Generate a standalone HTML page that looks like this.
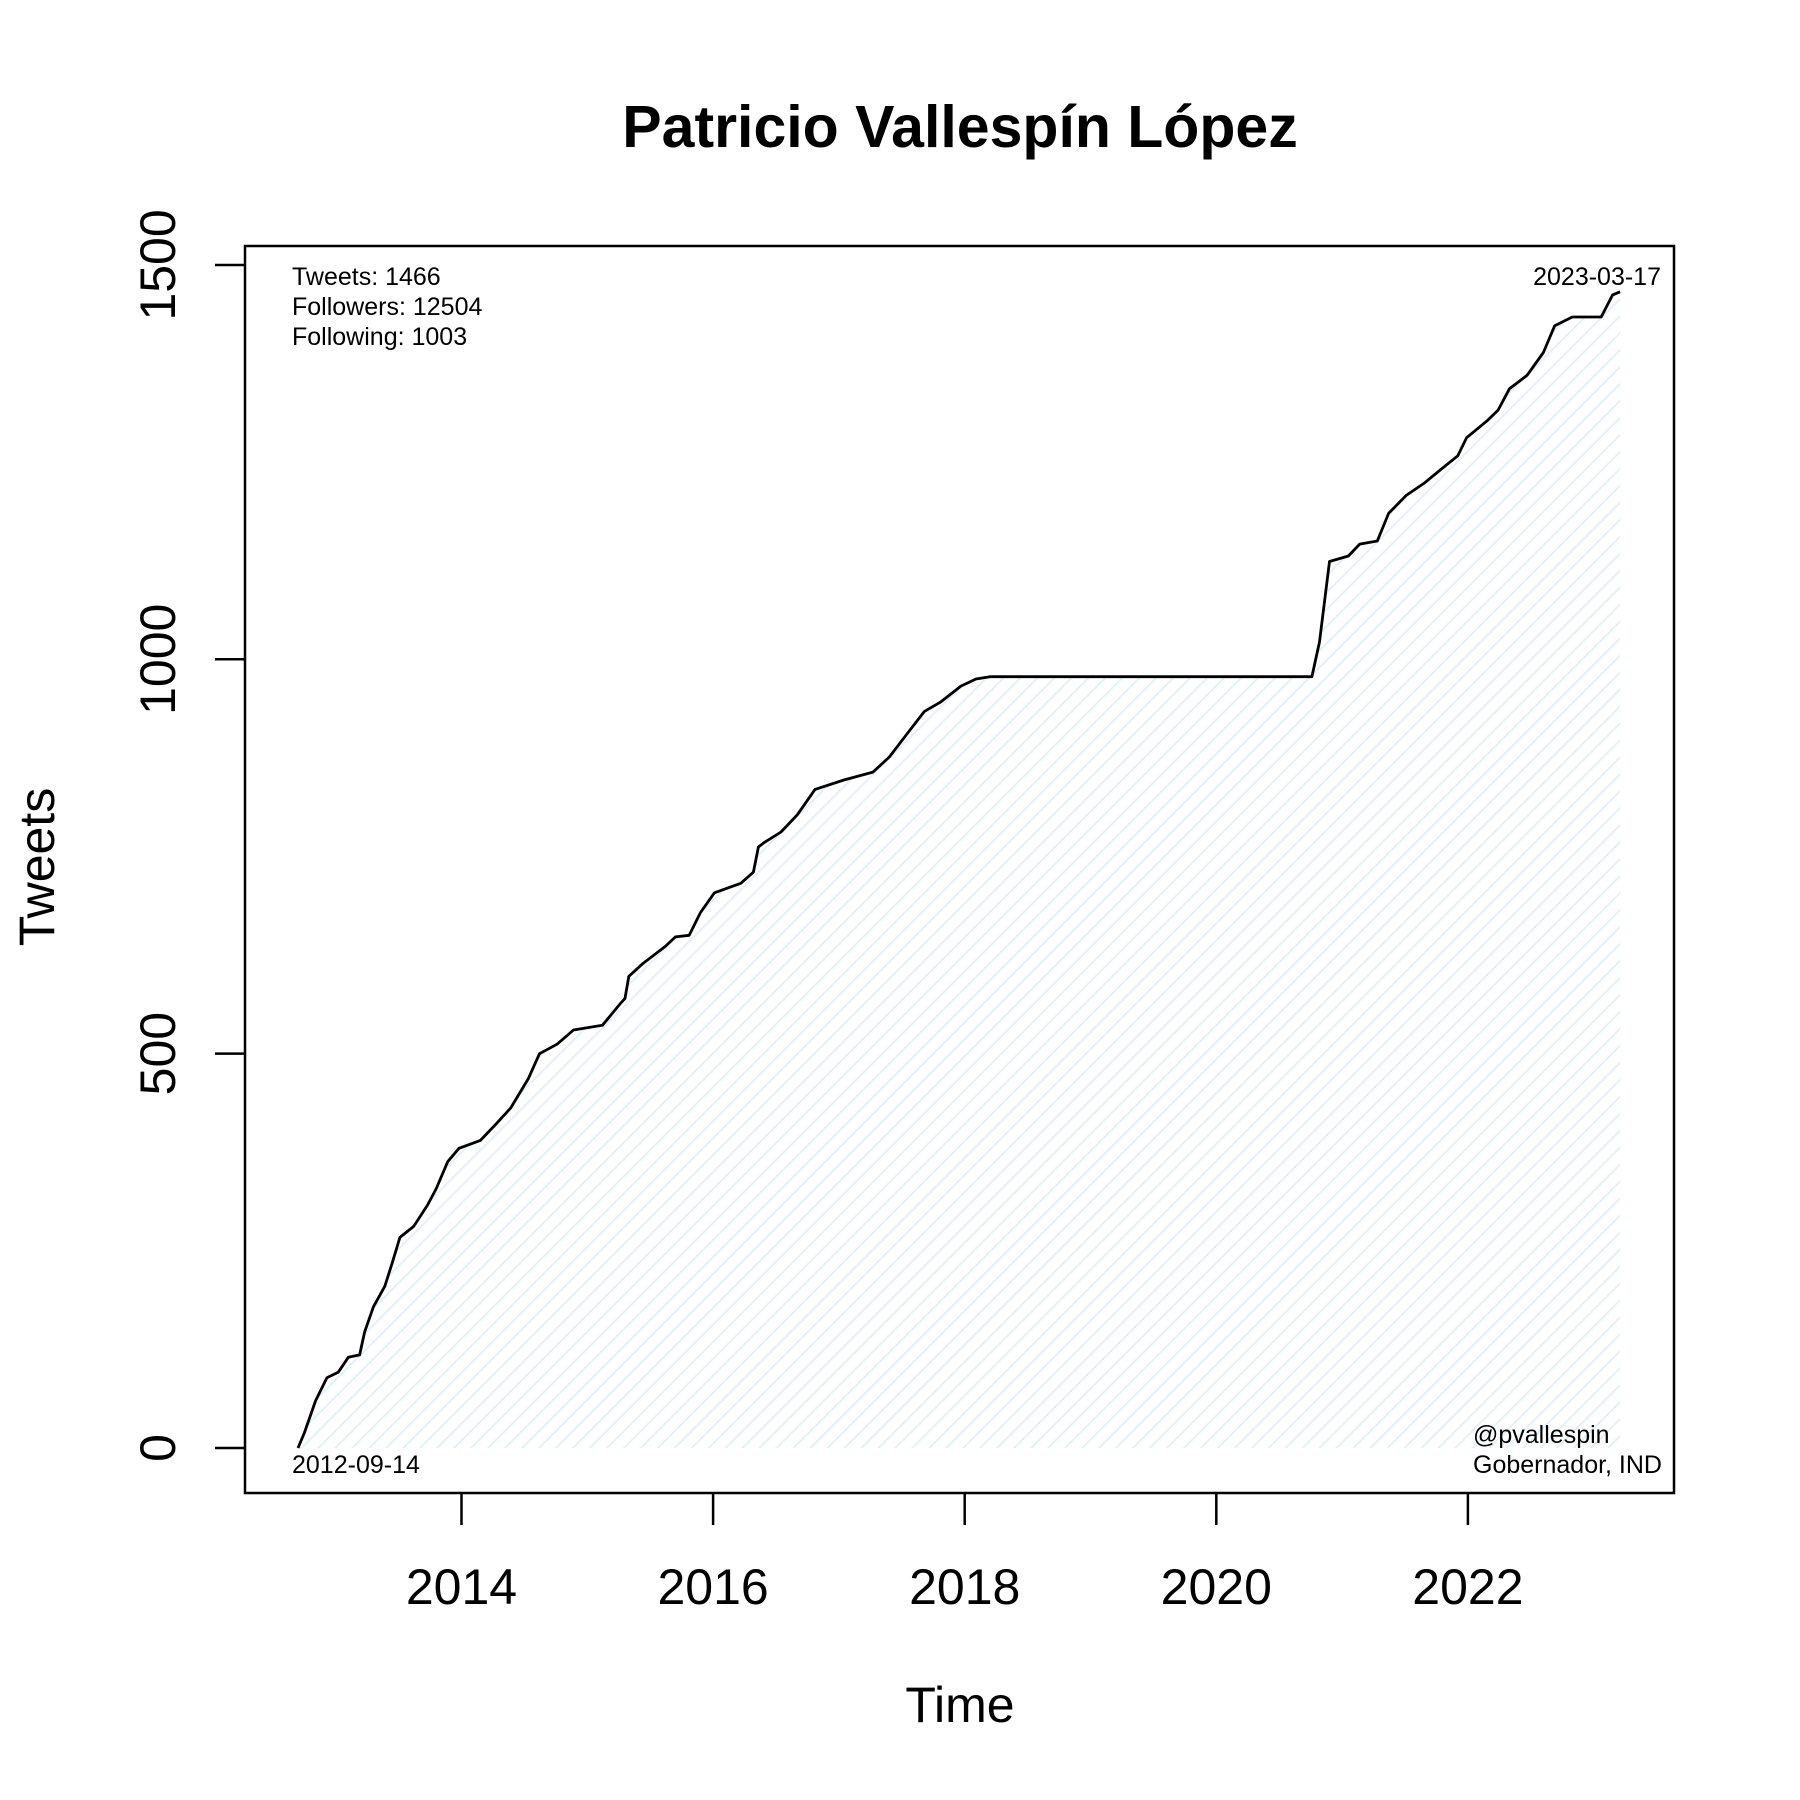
<!DOCTYPE html>
<html><head><meta charset="utf-8"><style>
html,body{margin:0;padding:0;background:#fff}
svg{display:block}
text{font-family:"Liberation Sans",Arial,sans-serif;fill:#000}
</style></head><body>
<svg id="chart" width="1800" height="1800" viewBox="0 0 1800 1800">
<defs>
<pattern id="hatch" patternUnits="userSpaceOnUse" width="12" height="12" patternTransform="rotate(45)">
<line x1="0" y1="0" x2="0" y2="12" stroke="#e3f1f6" stroke-width="4"/>
</pattern>
</defs>
<text x="960" y="147" font-size="59" font-weight="bold" text-anchor="middle">Patricio Vallespín López</text>
<g id="plot"></g>
<rect x="245" y="246" width="1429" height="1247" fill="none" stroke="#000" stroke-width="2.5"/>
<g id="axes"></g>
<text x="292" y="285" font-size="25">Tweets: 1466</text>
<text x="292" y="315" font-size="25">Followers: 12504</text>
<text x="292" y="345" font-size="25">Following: 1003</text>
<text x="1661" y="285" font-size="25" text-anchor="end">2023-03-17</text>
<text x="292" y="1473" font-size="25">2012-09-14</text>
<text x="1473" y="1443" font-size="25">@pvallespin</text>
<text x="1473" y="1473" font-size="25">Gobernador, IND</text>
<text x="960" y="1722" font-size="50" text-anchor="middle">Time</text>
<text transform="translate(54,867) rotate(-90)" font-size="50" text-anchor="middle">Tweets</text>
</svg>
<script>
const years = [2012.70,2012.75,2012.84,2012.93,2013.02,2013.10,2013.19,2013.23,2013.30,2013.39,2013.45,2013.51,2013.62,2013.73,2013.80,2013.89,2013.98,2014.15,2014.27,2014.39,2014.53,2014.62,2014.76,2014.89,2015.12,2015.26,2015.30,2015.33,2015.44,2015.62,2015.70,2015.81,2015.90,2016.01,2016.22,2016.32,2016.36,2016.40,2016.54,2016.67,2016.81,2017.04,2017.27,2017.40,2017.54,2017.68,2017.81,2017.97,2018.09,2018.20,2020.76,2020.82,2020.90,2021.05,2021.14,2021.28,2021.37,2021.51,2021.65,2021.78,2021.92,2021.99,2022.15,2022.24,2022.33,2022.47,2022.60,2022.69,2022.83,2023.06,2023.15,2023.21];
const tweets = [0,19,60,89,96,115,118,147,179,205,235,267,281,308,329,363,380,390,410,431,468,500,512,530,536,563,570,598,614,636,648,650,679,704,716,730,762,767,781,803,835,847,857,876,905,934,946,966,975,978,978,1022,1124,1131,1146,1150,1185,1208,1223,1240,1258,1281,1302,1316,1343,1360,1389,1423,1434,1434,1462,1466];
const xTicks = [2014,2016,2018,2020,2022];
const yTicks = [0,500,1000,1500];

const NS = "http://www.w3.org/2000/svg";
const xs = y => 461.5 + (y - 2014) * 125.8;
const ys = v => 1448 - v * 0.7887;
const plot = document.getElementById('plot');
const axes = document.getElementById('axes');

let pts = years.map((y,i)=>xs(y).toFixed(1)+','+ys(tweets[i]).toFixed(1));
const area = document.createElementNS(NS,'polygon');
area.setAttribute('points', pts.join(' ')+' '+xs(years[years.length-1]).toFixed(1)+','+ys(0)+' '+xs(years[0]).toFixed(1)+','+ys(0));
area.setAttribute('fill','url(#hatch)');


plot.appendChild(area);
const line = document.createElementNS(NS,'polyline');
line.setAttribute('points', pts.join(' '));
line.setAttribute('fill','none');
line.setAttribute('stroke','#000');
line.setAttribute('stroke-width','2.8');
line.setAttribute('stroke-linejoin','round');


plot.appendChild(line);

xTicks.forEach(t=>{
  const l = document.createElementNS(NS,'line');
  l.setAttribute('x1',xs(t));l.setAttribute('x2',xs(t));l.setAttribute('y1',1493);l.setAttribute('y2',1525);
  l.setAttribute('stroke','#000');l.setAttribute('stroke-width','2.5');
  
  
  axes.appendChild(l);
  const tx = document.createElementNS(NS,'text');
  tx.setAttribute('x',xs(t));tx.setAttribute('y',1604);tx.setAttribute('font-size','50');tx.setAttribute('text-anchor','middle');
  tx.textContent = t;
  
  
  axes.appendChild(tx);
});
yTicks.forEach(t=>{
  const l = document.createElementNS(NS,'line');
  l.setAttribute('x1',215);l.setAttribute('x2',245);l.setAttribute('y1',ys(t));l.setAttribute('y2',ys(t));
  l.setAttribute('stroke','#000');l.setAttribute('stroke-width','2.5');
  
  
  axes.appendChild(l);
  const tx = document.createElementNS(NS,'text');
  tx.setAttribute('transform','translate(175,'+ys(t)+') rotate(-90)');
  tx.setAttribute('font-size','50');tx.setAttribute('text-anchor','middle');
  tx.textContent = t;
  
  
  axes.appendChild(tx);
});
</script>
</body></html>
